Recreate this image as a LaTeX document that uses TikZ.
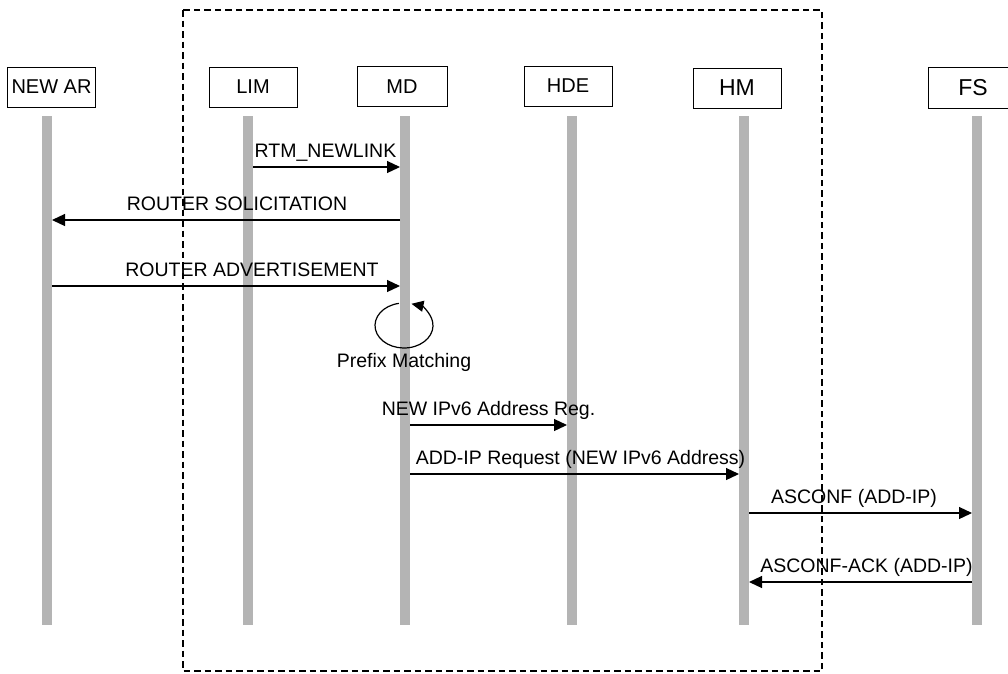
\documentclass[tikz,border=0pt]{standalone}
\usepackage{fontspec}
\setmainfont{Liberation Sans}
\usetikzlibrary{arrows.meta}
\definecolor{lifegray}{RGB}{180,180,180}

\begin{document}
\begin{tikzpicture}[x=1pt,y=-1pt]
 \tikzset{entity/.style={draw,line width=1pt,minimum width=88pt,minimum height=40pt,inner sep=0pt,font=\fontsize{20}{24}\selectfont},
  lifeline/.style={draw=lifegray,line width=10pt},
  msg/.style={line width=1.2pt,shorten >=5pt,shorten <=5pt,-{Triangle[length=13pt,width=12pt]}},
  lbl/.style={anchor=base,yshift=10pt,inner sep=0pt,font=\fontsize{19.5}{23}\selectfont}}
 \useasboundingbox (0,0) rectangle (1008,673);

 \node[entity] (ar) at (51.5,87) {NEW AR};
 \node[entity] (lim) at (253,87) {LIM};
 \node[entity,minimum width=90pt] (md) at (402,86.5) {MD};
 \node[entity] (hde) at (568,86) {HDE};
 \node[entity,font=\fontsize{23}{27}\selectfont] (hm) at (737,88) {HM};
 \node[entity,minimum width=90pt,minimum height=41pt,font=\fontsize{23}{27}\selectfont] (fs) at (973,87.5) {FS};

 \foreach \n/\x in {ar/47,lim/248,md/405,hde/572,hm/744,fs/977} {
  \coordinate (\n-top) at (\x,116);
  \coordinate (\n-bot) at (\x,625);
  \draw[lifeline] (\n-top) -- (\n-bot);
 }

 \coordinate (m1) at (0,167);
 \coordinate (m2) at (0,220);
 \coordinate (m3) at (0,286);
 \coordinate (m4) at (0,425);
 \coordinate (m5) at (0,474);
 \coordinate (m6) at (0,513);
 \coordinate (m7) at (0,582);

 \draw[msg] (lim-top |- m1) to node[lbl,xshift=-1pt] {RTM\_NEWLINK} (md-top |- m1);
 \draw[msg] (md-top |- m2) to node[lbl,xshift=11pt] {ROUTER SOLICITATION} (ar-top |- m2);
 \draw[msg] (ar-top |- m3) to node[lbl,xshift=26pt] {ROUTER ADVERTISEMENT} (md-top |- m3);

 % prefix matching loop on MD
 \coordinate (pm) at (404,325.5);
 \draw[line width=1.2pt,-{Triangle[length=12pt,width=11pt]}] ([shift={(260:29 and 22.5)}]pm) arc[start angle=260,end angle=-75,x radius=29,y radius=22.5];
 \node[lbl,yshift=0pt] (pm-lbl) at (404,377) {Prefix Matching};

 \draw[msg] (md-top |- m4) to node[lbl] {NEW IPv6 Address Reg.} (hde-top |- m4);
 \draw[msg] (md-top |- m5) to node[lbl,xshift=6pt] {ADD-IP Request (NEW IPv6 Address)} (hm-top |- m5);
 \draw[msg] (hm-top |- m6) to node[lbl,xshift=-6.5pt] {ASCONF (ADD-IP)} (fs-top |- m6);
 \draw[msg] (fs-top |- m7) to node[lbl,xshift=6pt] {ASCONF-ACK (ADD-IP)} (hm-top |- m7);

 \draw[line width=1.4pt,dash pattern=on 6.5pt off 4pt] (183,10) rectangle (822,671);
\end{tikzpicture}
\end{document}
